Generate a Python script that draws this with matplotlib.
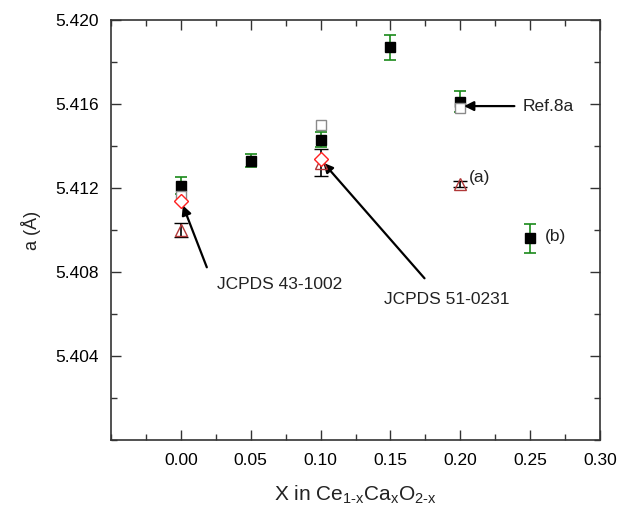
import matplotlib.pyplot as plt
import matplotlib.ticker as mticker

plt.rcParams['font.family'] = ['Liberation Sans', 'DejaVu Sans']
plt.rcParams['mathtext.fontset'] = 'custom'
plt.rcParams['mathtext.rm'] = 'Liberation Sans'
plt.rcParams['mathtext.it'] = 'Liberation Sans'

# (b) series: filled squares with green error bars
x_b = [0.00, 0.05, 0.10, 0.15, 0.20, 0.25]
y_b = [5.4121, 5.4133, 5.4143, 5.4187, 5.4161, 5.4096]
err_b = [0.0004, 0.0003, 0.00035, 0.0006, 0.0005, 0.0007]

# (a) series: open triangles with black error bars
x_a = [0.00, 0.10, 0.20]
y_a = [5.4100, 5.4132, 5.4122]
err_a = [0.00035, 0.00065, 0.00013]

# JCPDS reference values (diamonds)
x_jc = [0.00, 0.10]
y_jc = [5.4114, 5.4134]

# Ref. 8a (open squares)
x_ref = [0.00, 0.10, 0.20]
y_ref = [5.4116, 5.4150, 5.4158]

fig = plt.figure(figsize=(6.18, 5.19), dpi=100)
ax = fig.add_axes([0.1796, 0.1522, 0.7913, 0.8093])

ax.errorbar(x_b, y_b, yerr=err_b, fmt='s', ms=7, color='black', ecolor='#1a8a1a',
            elinewidth=1.2, capsize=4, capthick=1.2, zorder=2)
ax.plot(x_ref, y_ref, 's', ms=7, mfc='white', mec='#8a8a8a', mew=1.0, zorder=3)
ax.plot(x_jc, y_jc, 'D', ms=7, mfc='white', mec='#ff2020', mew=1.0, zorder=4)
ax.errorbar(x_a, y_a, yerr=err_a, fmt='^', ms=8.5, mfc='none', mec='#b03838', mew=1.0,
            ecolor='black', elinewidth=1.2, capsize=5, capthick=1.2, zorder=3)

ax.set_xlim(-0.05, 0.30)
ax.set_ylim(5.400, 5.420)
ax.set_xticks([0.00, 0.05, 0.10, 0.15, 0.20, 0.25, 0.30])
ax.set_yticks([5.404, 5.408, 5.412, 5.416, 5.420])
ax.xaxis.set_minor_locator(mticker.MultipleLocator(0.025))
ax.yaxis.set_minor_locator(mticker.MultipleLocator(0.002))
ax.xaxis.set_major_formatter(mticker.FormatStrFormatter('%.2f'))
ax.yaxis.set_major_formatter(mticker.FormatStrFormatter('%.3f'))
ax.tick_params(which='both', direction='in', top=True, right=True, labelsize=12.5,
               width=1.0, color='#333333')
ax.tick_params(which='major', length=7, pad=9)
ax.tick_params(which='minor', length=4)
for s in ax.spines.values():
    s.set_linewidth(1.2)
    s.set_color('#333333')

ax.set_ylabel('a (Å)', fontsize=13, labelpad=10, color='#222222')
ax.set_xlabel('X in Ce$_{1\u2010x}$Ca$_{x}$O$_{2\u2010x}$', fontsize=15, labelpad=12,
              color='#222222')

arrow = dict(arrowstyle='-|>', color='black', lw=1.6, mutation_scale=14)
ax.annotate('', xy=(0.0007, 5.4113), xytext=(0.0193, 5.4081), arrowprops=arrow)
ax.annotate('', xy=(0.1007, 5.4133), xytext=(0.1757, 5.4076), arrowprops=arrow)
ax.annotate('', xy=(0.2007, 5.4159), xytext=(0.2407, 5.4159), arrowprops=arrow)

ax.text(0.0257, 5.4074, 'JCPDS 43-1002', fontsize=12.5, va='center', color='#222222')
ax.text(0.1457, 5.4067, 'JCPDS 51-0231', fontsize=12.5, va='center', color='#222222')
ax.text(0.2443, 5.4159, 'Ref.8a', fontsize=12.5, va='center', color='#222222')
ax.text(0.2064, 5.4125, '(a)', fontsize=12.5, va='center', color='#222222')
ax.text(0.2607, 5.4097, '(b)', fontsize=12.5, va='center', color='#222222')

plt.savefig('out.png', dpi=100)
